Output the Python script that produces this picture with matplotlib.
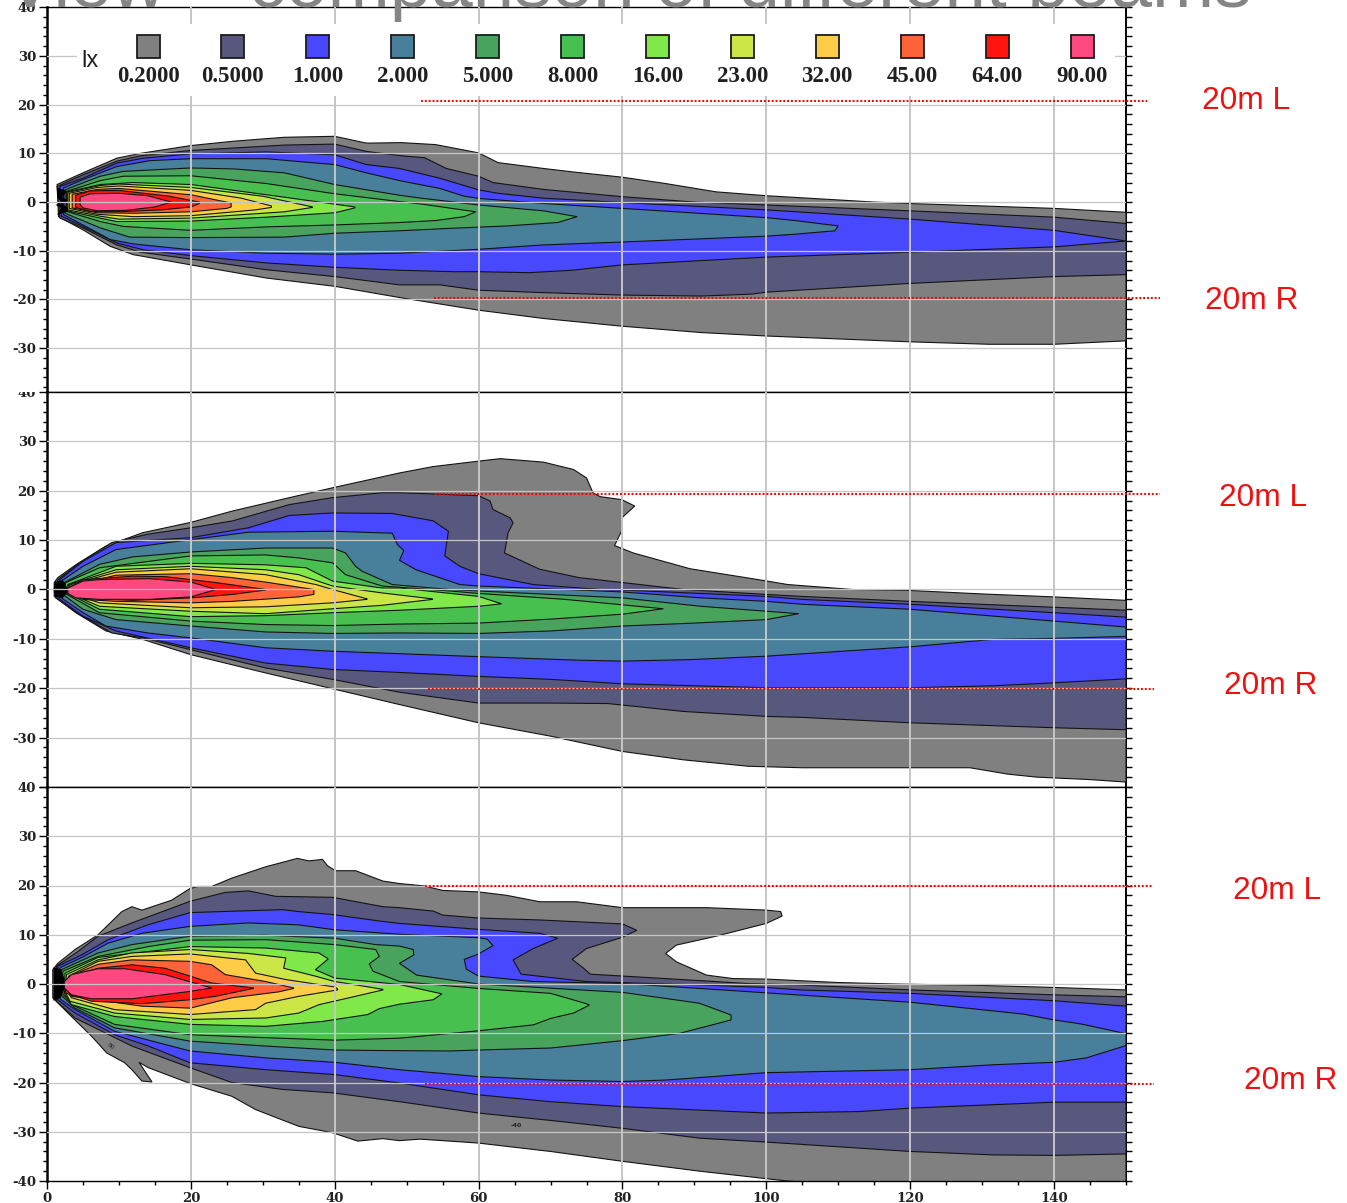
import matplotlib
matplotlib.use("Agg")
import matplotlib.pyplot as plt
from matplotlib.patches import Rectangle
from matplotlib.ticker import MultipleLocator, FixedLocator
from matplotlib.transforms import Bbox

W, H = 1347, 1203
plt.rcParams['axes.unicode_minus'] = False

TITLE = "View – comparison of different beams"
LEGEND_TITLE = "lx"
LEVEL_LABELS = ["0.2000", "0.5000", "1.000", "2.000", "5.000", "8.000", "16.00", "23.00", "32.00", "45.00", "64.00", "90.00"]
LEVEL_COLORS = ["#808080", "#58587F", "#4848FF", "#48809C", "#48A35C", "#48C050", "#80E848", "#CCE648", "#FFCC48", "#FF6438", "#FF1410", "#FF4880"]
XTICKS = [0, 20, 40, 60, 80, 100, 120, 140]
YTICKS = [-40, -30, -20, -10, 0, 10, 20, 30, 40]
ANNOTATION_LABELS = ["20m L", "20m R", "20m L", "20m R", "20m L", "20m R"]
ANNOTATION_Y = [20.7, -19.7, 19.3, -20.1, 19.9, -20.3]

# ---------- Panel 1: contour outlines (x in m, y in m), upper and lower edge ----------
P1_020_UP = [(1.4,3.6),(5,6),(9.7,9),(13,10),(20,11.6),(26,12.5),(33,13.3),(40,13.5),(44.4,12.1),(49.3,12.2),(54,11.8),(60,10.1),(62.7,8.1),(69,6.9),(73,6.2),(80,5.1),(86,3.8),(93,2.1),(100,1.3),(115,0),(120,-.3),(140,-1.3),(150,-2.1)]
P1_020_LO = [(1.6,-3),(5,-5.7),(8.8,-9.1),(12,-10.8),(20,-12.9),(30.5,-15.6),(40,-17.3),(49,-19.6),(60,-22.2),(69,-23.9),(80,-25.5),(91,-26.8),(100,-27.5),(120,-28.7),(131,-29.2),(140,-29.2),(150,-28.5)]
P1_050_UP = [(1.4,3.2),(5,5.6),(9.7,8.4),(13,9.5),(20,10.6),(26,11.1),(33,11.7),(40,11.9),(44.4,10.4),(49.3,9.5),(52.5,9.1),(55.5,6.9),(60,5.3),(62,4),(69,2.6),(80,1.1),(90,0),(100,-.6),(120,-1.8),(140,-3.1),(150,-4.4)]
P1_050_LO = [(1.8,-3.3),(5,-5.3),(9.7,-8.8),(13,-10.3),(20,-11.7),(30.5,-13.9),(40,-15.3),(49,-17),(54.6,-17),(60,-18.1),(69,-18.6),(80,-19.1),(91,-19.3),(98,-18.9),(100,-18.5),(120,-16.7),(140,-15.3),(150,-14.9)]
P1_100_UP = [(1.8,3.2),(5,4.9),(9.7,8),(13.4,9),(20,9.9),(30.5,10.3),(40,9.7),(44.4,7.7),(49,6.9),(54.6,4.9),(60,2.5),(62.7,1.8),(69,.8),(80,-.1),(100,-1.6),(120,-3.5),(140,-5.8),(150,-8)]
P1_100_LO = [(2,-2.9),(5,-5),(9.7,-8.4),(13.4,-9.8),(20,-11),(30.5,-12.5),(40,-13.4),(49,-14),(56.5,-14.3),(60,-14.3),(67,-14.5),(73,-14),(80,-12.9),(100,-11.3),(120,-10.3),(140,-9.2),(150,-8)]
P1_200_UP = [(2.3,2.9),(5,4.6),(9.7,7.3),(14.3,8.5),(20,8.9),(30.5,8.9),(37.5,8),(40,7.7),(44.4,6),(49,4.4),(54.6,2.8),(58,1.2),(60,.75),(69,-.3),(80,-1.3),(100,-3.2),(104,-3.8),(110,-4.9)]
P1_200_LO = [(2.3,-2.6),(5,-4.7),(8.8,-7.7),(12,-8.6),(20,-9.8),(30.5,-10.5),(40,-10.7),(49,-10.5),(60,-9.7),(69,-8.8),(80,-8.2),(100,-7),(104,-6.6),(109.5,-5.9),(110,-4.9)]
P1_500_UP = [(2.5,2.5),(7.4,5.3),(10.6,6.3),(20,7),(26,6.8),(33,6),(40,3.6),(49,1.4),(52,.8),(60,-.6),(69,-1.8),(73.7,-3)]
P1_500_LO = [(2.5,-2.3),(7.4,-5.3),(11.5,-7.2),(20,-7.3),(33,-7.2),(40,-6.4),(49,-5.9),(56,-5.4),(64,-4.9),(71,-4.2),(73.7,-3)]
P1_800_UP = [(2.7,2.2),(7.4,4.4),(10.6,5.3),(20,5.4),(30.5,3.8),(40,1.7),(49,.1),(52,-.4),(59.6,-2)]
P1_800_LO = [(2.7,-1.9),(7.4,-4),(10.6,-5),(20,-5.8),(30.5,-5.1),(40,-4.7),(49,-4.2),(54,-3.8),(58,-3),(59.6,-2)]
P1_1600_UP = [(2.8,2.1),(7.4,3.6),(12,4),(20,3.6),(30.5,1.5),(42.8,-1)]
P1_1600_LO = [(2.8,-1.8),(7.4,-3.3),(9.7,-4),(20,-3.9),(30.5,-3.1),(40,-2.2),(42.8,-1.2)]
P1_2300_UP = [(2.9,2),(7.4,3.4),(10,3.7),(20,3),(30,1.2),(36.9,-1)]
P1_2300_LO = [(2.9,-1.6),(7.4,-2.9),(10,-3.5),(20,-3.3),(25,-2.8),(33,-2),(36.9,-1.1)]
P1_3200_UP = [(3.1,1.8),(7,3),(10,3.3),(20,2.4),(27,.8),(31.2,-.8)]
P1_3200_LO = [(3.1,-1.3),(7,-2.5),(12,-3),(20,-2.8),(29,-1.6),(31.2,-1.1)]
P1_4500_UP = [(3.5,1.6),(7,2.6),(10,2.8),(20,1.5),(25.6,-.2),(25.6,-1)]
P1_4500_LO = [(3.5,-1.2),(7,-2.2),(12,-2.3),(20,-2),(25,-1.3),(25.6,-1)]
P1_6400_UP = [(4,1.4),(6,2.3),(10,2.4),(17,1.2),(21.2,0)]
P1_6400_LO = [(4,-1.1),(6,-1.9),(10,-2),(16,-1.6),(20,-1),(21.2,-.3)]
P1_9000_UP = [(4.6,1),(6,1.7),(10,1.8),(14,1.3),(17.3,0)]
P1_9000_LO = [(4.6,-.5),(5,-1.2),(7,-1.8),(11,-1.7),(15,-1),(17.3,0)]
P1_SOURCE = [(1.4,3),(2.8,2.2),(2.1,1),(2.9,.4),(2.1,-.4),(2.9,-1.2),(2.8,-2),(1.4,-2.6),(2,-1.2),(1.2,-.6),(2,0),(1.4,1)]

# ---------- Panel 2 ----------
P2_020_UP = [(1,1.4),(1.5,2.4),(4,5),(8.2,8.8),(13.3,11.5),(20,13.6),(25.8,15.9),(33.7,18.6),(39.7,20.6),(49,23.6),(53.7,24.9),(60,26),(63,26.5),(69,25.8),(73.2,24.3),(75,22.6),(75.9,19.6),(76.9,18.8),(79.9,18.2),(81.7,16.9),(79.9,14.5),(80,12.2),(78.9,8.9),(81.5,7.4),(89.4,4.2),(99.3,1.9),(103,1),(112,0),(120,-.2),(130,-.9),(140,-1.5),(150,-2.2)]
P2_020_LO = [(1,-1.4),(4,-4.7),(8.2,-8.4),(13.3,-10.1),(20,-13.2),(30.4,-16.9),(39.7,-20.1),(49,-23.3),(60,-27),(70,-29.7),(80,-32.8),(88.5,-34.5),(97.5,-35.8),(105,-36.1),(120,-36.1),(128.3,-36.1),(133.6,-37.4),(137.6,-38),(145,-38.5),(150,-39)]
P2_050_UP = [(1.5,2),(4.5,5.4),(9,9.5),(14,11.2),(20,12.5),(25.8,13.9),(33.7,17.2),(39.7,18.6),(46.6,19.6),(49,19.6),(60,19),(61.6,17.9),(62,16.2),(64.4,14.5),(64.8,13.5),(64.1,11.5),(63.6,7.4),(68.5,4.1),(74,2.4),(88.5,0),(100,-1),(105,-1.4),(120,-2.4),(140,-3.6),(150,-4.2)]
P2_050_LO = [(1.2,-1.7),(4.5,-5),(9,-8.8),(13.3,-9.8),(20,-12.2),(30.4,-15.9),(39.7,-18.2),(49,-20.8),(60,-23),(70,-23),(78,-23.1),(88.5,-24.7),(100,-25.7),(105,-25.9),(120,-27),(140,-28),(150,-28.4)]
P2_100_UP = [(1.7,1.9),(5,5.7),(9.6,9.5),(20,10.5),(28,12.5),(33.7,15),(39.7,15.5),(48,15.4),(53.7,13.9),(55.8,11.8),(55.3,6.8),(57.4,4.7),(60,3.2),(67.6,1),(77,0),(80,-.1),(100,-1.4),(105,-2),(120,-3),(140,-4.7),(150,-5.6)]
P2_100_LO = [(1.5,-1.7),(5,-5.4),(9.6,-8.4),(20,-11.8),(30.4,-14.9),(39.7,-16.2),(49,-16.8),(60,-17.6),(70,-18.2),(80,-19.1),(100,-19.9),(120,-19.9),(131.5,-19.5),(140,-18.9),(150,-18.1)]
P2_200_UP = [(2,1.7),(5,4.7),(9.6,8.1),(20,10.1),(28,11.6),(39.7,11.8),(48,11.4),(48.7,9.1),(49.6,7.9),(49,5.9),(51.3,4),(57.4,1),(60,.7),(77,-.3),(80,-.5),(91,-1.7),(100,-2.4),(105,-3),(120,-4),(140,-6.4),(150,-7.6)]
P2_200_LO = [(1.7,-1.4),(5,-4.7),(8.2,-7.4),(14,-8.8),(20,-9.8),(30.4,-11.8),(39.7,-12.5),(49,-13),(60,-13.6),(73.6,-14.3),(80,-14.5),(89.4,-14.2),(100,-13.5),(120,-11.6),(131.5,-10.1),(140,-9.9),(150,-9.5)]
P2_500_UP = [(2.4,1.4),(7.3,5.1),(11.9,6.6),(20,7.6),(30.4,8.4),(39.7,8.4),(41.5,7.4),(42.9,4.7),(43.8,3.7),(48,1),(56,0),(60,-.3),(80,-1.7),(90.9,-3.4),(104.5,-4.9)]
P2_500_LO = [(2.2,-1),(5,-4),(9.6,-6.1),(20,-7.4),(30.4,-8.6),(39.7,-8.9),(49,-8.8),(60,-8.9),(70,-8.4),(80,-7.4),(90,-6.8),(100,-6.1),(104.5,-4.9)]
P2_800_UP = [(2.6,1.4),(7.3,4.4),(20,6.8),(30.4,7),(35,6.4),(39.7,5.4),(41.5,3),(46.6,.7),(56,-.3),(60,-.8),(72,-2),(85.7,-3.9)]
P2_800_LO = [(2.4,-.7),(7.3,-4.7),(20,-6.4),(30.4,-7.1),(39.7,-7.3),(49,-7),(60,-6.8),(70,-6),(80,-5),(85.7,-3.9)]
P2_1600_UP = [(2.9,1),(9.6,4.7),(20,5.3),(30.4,5),(36,4.4),(39.7,1.7),(46.6,.3),(49,.3),(60,-1.4),(63.2,-2.9)]
P2_1600_LO = [(2.9,-.8),(7.3,-4),(20,-5.5),(30.4,-5.3),(39.7,-4.7),(49,-4.2),(60,-3.4),(63.2,-2.9)]
P2_2300_UP = [(3,1),(9.6,4),(20,4.7),(30.4,4),(35,3),(39.7,.7),(46.6,-.7),(53.6,-1.9)]
P2_2300_LO = [(3.1,-.8),(7.3,-3.4),(20,-4.4),(30.4,-4.9),(39.7,-3.9),(46.6,-3.2),(53.6,-2)]
P2_3200_UP = [(3.1,.9),(9.6,3.5),(20,4.2),(30.4,3),(37.4,1),(39.7,0),(44.5,-1.9)]
P2_3200_LO = [(3.1,-.7),(7.3,-2.7),(20,-3.7),(30.4,-3.5),(39.7,-2.7),(44.5,-2)]
P2_4500_UP = [(3.3,.7),(9.6,2.9),(20,3.2),(25.8,2.4),(30.4,1.5),(37.1,0),(37.1,-1)]
P2_4500_LO = [(3.3,-.6),(5,-2),(9.6,-2.4),(20,-2.7),(25.8,-2.4),(35,-1.5),(37.1,-1)]
P2_6400_UP = [(3.5,.6),(5,2),(11.9,2.7),(16.5,2.6),(23.5,1.4),(30.4,0)]
P2_6400_LO = [(3.5,-.5),(5,-1.7),(11.9,-2.2),(20,-1.7),(25.8,-1),(30.4,-.1)]
P2_9000_UP = [(2.9,.3),(5,1.7),(7.3,2),(14.2,2.2),(20,1.5),(23.5,0)]
P2_9000_LO = [(2.9,-.8),(4,-1.7),(7.3,-2),(14.2,-2),(20,-1.5),(23.5,0)]
P2_SOURCE = [(1.1,1.6),(2.2,1.9),(2.8,.4),(2.8,-.7),(2.2,-1.7),(1.1,-1.5),(.9,0)]

# ---------- Panel 3 ----------
P3_020_UP = [(.8,2.9),(1.5,4.2),(3.9,7),(7.1,10),(10.4,14.7),(11.8,15.7),(13.2,15),(17.3,17),(19.9,19.4),(21,19.8),(22.9,19.8),(25.7,21.5),(30.4,23.8),(34.8,25.5),(36.4,25),(38.3,25.3),(39,24),(40.1,23),(42.9,23),(46.7,20.9),(49,20.4),(52.5,19.9),(55,19),(60,18.7),(63.9,18),(68.5,16.7),(73.6,16.7),(80,15.5),(91.7,15.5),(100,15),(102,14.7),(102.2,13.8),(100,12.3),(93,9.7),(87.5,7.9),(86,6.2),(87.5,4.5),(91.7,1.8),(95.4,1.1),(100,1),(110,.3),(117.9,0),(130,-.3),(140,-.7),(150,-1.2)]
P3_020_LO = [(.8,-2.8),(3.4,-6.6),(6.2,-10.6),(8.3,-14),(10.8,-16),(11.8,-17.4),(13.2,-19.7),(14.6,-19.9),(13.6,-17.7),(12.8,-15.9),(14.1,-17),(19.9,-20.2),(25.7,-22.8),(29,-25.5),(35,-28.9),(39.7,-30.2),(43.2,-31.9),(46.7,-31.4),(49,-31.8),(51.9,-31.5),(60,-32.3),(70,-34),(80,-36),(90.7,-38),(102.9,-40),(150,-45)]
P3_050_UP = [(1.3,3.6),(4.3,6.6),(7.1,9.7),(11.8,12.4),(19.9,16.8),(24.8,18.6),(28,18.9),(31.8,17.8),(39.7,17.6),(46.7,15.7),(49,15.5),(53.7,14.8),(55,14),(60,13.4),(68.5,13),(80,12.2),(82,10.9),(80,9.5),(75,7.2),(73,5),(74.6,3.2),(75.5,2),(86,1.1),(97.4,.1),(104.7,-.2),(120,-1.2),(140,-2.2),(150,-2.6)]
P3_050_LO = [(1.3,-3.5),(3.9,-6.9),(11.8,-12.6),(19.9,-17),(25.7,-20),(32.7,-21.4),(39.7,-22.1),(49,-23.9),(60,-26.2),(70,-27.7),(80,-29.3),(90.7,-31.3),(100,-32.1),(120,-34),(131.5,-34.7),(140,-34.8),(150,-34.5)]
P3_100_UP = [(1.5,3.6),(4.8,5.9),(8.5,9),(14,12),(19.9,14.5),(32.7,15.1),(35,14.7),(39.7,14.1),(46.7,12.7),(49,12.3),(60,11.1),(68.5,10.3),(71,9.3),(67.6,7.2),(64.8,4.9),(65.9,2),(75,.5),(90.7,-.2),(100,-.7),(104.7,-1.2),(120,-1.9),(140,-3.4),(150,-4.5)]
P3_100_LO = [(1.5,-3.2),(3.9,-5.9),(9.4,-10.3),(14.1,-12.6),(19.9,-16),(30.4,-17.4),(40,-18.4),(49,-20.1),(60,-22.5),(70,-23.9),(80,-24.9),(100,-26.2),(113,-25.9),(120,-25.2),(140,-24),(150,-24)]
P3_200_UP = [(1.8,3.3),(5,5.5),(8.5,8.3),(13.2,10.3),(19.9,11.7),(28,12.4),(35,12),(40,11),(49,10.1),(60,9.4),(61.2,9.1),(62,7.8),(60,6.1),(58,5),(58.3,3),(60,1.6),(67.6,.5),(80,.1),(90.7,-.9),(100,-1.8),(120,-3.7),(135.7,-6.1),(140,-7.3),(143.7,-8.1),(150,-10.1)]
P3_200_LO = [(1.8,-3),(3.9,-5.2),(9.4,-9.6),(19.9,-13.6),(30.4,-15),(40,-15.9),(49,-17.4),(60,-18.8),(70,-19.5),(80,-19.8),(86,-19.5),(100,-18),(120,-17.4),(131.5,-16.4),(140,-15.9),(144.5,-15),(150,-12.5)]
P3_500_UP = [(2,2.9),(7.1,6.3),(11.8,8),(19.9,9.7),(30.4,9.9),(40,9.3),(45.7,8),(49,7.7),(50.9,7),(51,5.9),(49,4.2),(51.4,1.8),(60,0),(80,-1.7),(90.7,-3.9),(95.1,-6.3)]
P3_500_LO = [(2,-2.3),(3.9,-4.9),(9.4,-8.9),(19.9,-11.6),(30.4,-12.6),(40,-13.4),(45.7,-13.5),(56,-13.6),(60,-13.4),(70,-13),(80,-11.5),(88,-10),(95.1,-7.3),(95.1,-6.3)]
P3_800_UP = [(2.2,2.6),(7.1,5.6),(14.1,7.6),(19.9,8.9),(30.4,9),(40,8),(45.7,7),(46.2,5.6),(44.8,4.1),(45.3,2.6),(49,.5),(60,-.9),(70,-1.9),(75,-4),(75.4,-4.3)]
P3_800_LO = [(2.2,-2.1),(3.9,-4.5),(9.4,-8.2),(19.9,-10.3),(30.4,-10.9),(40,-11.4),(49,-11),(60,-9.5),(67.6,-8.3),(70,-7),(73.2,-5.9),(75.4,-4.3)]
P3_1600_UP = [(2.5,2.2),(7.1,5.4),(14.1,6.6),(19.9,7.6),(30.4,7.3),(37.8,6.3),(39.1,5.1),(37.3,2.9),(40,1.2),(49,-.1),(54.9,-2)]
P3_1600_LO = [(2.4,-1.9),(3.4,-4.2),(9.4,-6.6),(19.9,-8.2),(30.4,-8.6),(38.3,-7.6),(44.6,-6.2),(46.2,-5),(49,-4.1),(53.7,-3.2),(54.9,-2)]
P3_2300_UP = [(2.7,1.9),(7.1,4.9),(11.8,6.3),(19.9,7),(28,6.2),(33.2,5.3),(32.9,3.2),(37.3,1.6),(40,.5),(44.3,-.5),(46.7,-1.1)]
P3_2300_LO = [(2.5,-1.5),(3.2,-3.5),(9.4,-5.9),(19.9,-7.2),(30.4,-6.9),(35,-5.9),(37.8,-4.2),(42,-2.8),(46.7,-1.2)]
P3_3200_UP = [(3,1.6),(7.1,4.6),(11.8,5.6),(19.9,6.1),(27.6,4.9),(29,2.2),(33.2,.9),(40,-.6),(40.4,-1)]
P3_3200_LO = [(2.8,-1.5),(3.4,-2.8),(9.4,-5.2),(19.9,-6.2),(29,-5.2),(30.4,-3.9),(35,-2.5),(40.4,-1.2)]
P3_4500_UP = [(3.2,1.6),(7.1,4),(11.8,4.9),(19.9,4.6),(22.9,3.9),(24.8,1.9),(30.4,.5),(34.3,-.8)]
P3_4500_LO = [(3.1,-1.5),(3.4,-2.5),(13.2,-4.5),(19.9,-4.9),(25.7,-2.8),(32.2,-1.6),(34.3,-.9)]
P3_6400_UP = [(3.4,1.6),(7.1,3.2),(11.8,3.9),(16.4,3.2),(19.9,1.6),(22.9,.2),(28.7,-.8)]
P3_6400_LO = [(2.5,-1.8),(6.2,-3.5),(13.2,-4),(19.9,-3.2),(23.4,-2.5),(28.7,-.9)]
P3_9000_UP = [(2.4,.5),(3.4,1.9),(7.1,3.1),(10.8,3.1),(16.4,1.9),(22.9,-.8)]
P3_9000_LO = [(2.4,-.8),(3.4,-2.2),(6.2,-3),(11.8,-3),(19.9,-1.5),(22.9,-.8)]
P3_SOURCE = [(.9,3.4),(1.9,3),(2.4,1.2),(2.4,-1),(1.9,-2.8),(.9,-3.4)]

PANEL1 = [(P1_020_UP,P1_020_LO),(P1_050_UP,P1_050_LO),(P1_100_UP,P1_100_LO),(P1_200_UP,P1_200_LO),(P1_500_UP,P1_500_LO),(P1_800_UP,P1_800_LO),(P1_1600_UP,P1_1600_LO),(P1_2300_UP,P1_2300_LO),(P1_3200_UP,P1_3200_LO),(P1_4500_UP,P1_4500_LO),(P1_6400_UP,P1_6400_LO),(P1_9000_UP,P1_9000_LO)]
PANEL2 = [(P2_020_UP,P2_020_LO),(P2_050_UP,P2_050_LO),(P2_100_UP,P2_100_LO),(P2_200_UP,P2_200_LO),(P2_500_UP,P2_500_LO),(P2_800_UP,P2_800_LO),(P2_1600_UP,P2_1600_LO),(P2_2300_UP,P2_2300_LO),(P2_3200_UP,P2_3200_LO),(P2_4500_UP,P2_4500_LO),(P2_6400_UP,P2_6400_LO),(P2_9000_UP,P2_9000_LO)]
PANEL3 = [(P3_020_UP,P3_020_LO),(P3_050_UP,P3_050_LO),(P3_100_UP,P3_100_LO),(P3_200_UP,P3_200_LO),(P3_500_UP,P3_500_LO),(P3_800_UP,P3_800_LO),(P3_1600_UP,P3_1600_LO),(P3_2300_UP,P3_2300_LO),(P3_3200_UP,P3_3200_LO),(P3_4500_UP,P3_4500_LO),(P3_6400_UP,P3_6400_LO),(P3_9000_UP,P3_9000_LO)]

PX_LEFT, PX_RIGHT = 47, 1126
TICK_FONT = dict(family='DejaVu Serif', fontweight='bold', fontsize=9.5, color='#222222')
GRID = '#c6c6c6'

fig = plt.figure(figsize=(W/100, H/100), dpi=100, facecolor='white')


def make_axes(px_top, px_bottom, ylim, panel, source, last):
    ax = fig.add_axes([PX_LEFT/W, 1-px_bottom/H, (PX_RIGHT-PX_LEFT)/W, (px_bottom-px_top)/H])
    ax.set_xlim(0, 150)
    ax.set_ylim(*ylim)
    for color, (up, lo) in zip(LEVEL_COLORS, panel):
        pts = list(up) + list(reversed(lo))
        ax.fill([p[0] for p in pts], [p[1] for p in pts], facecolor=color,
                edgecolor='#141414', linewidth=0.8, zorder=2)
    ax.fill([p[0] for p in source], [p[1] for p in source], facecolor='black', edgecolor='none', zorder=2.5)
    for x in XTICKS[1:]:
        ax.axvline(x, color=GRID, lw=1.4, zorder=3)
    for y in YTICKS[1:-1]:
        ax.axhline(y, color=GRID, lw=0.9, zorder=3)
    yt = [v for v in YTICKS if ylim[0] <= v <= ylim[1] + 0.1]
    ax.yaxis.set_major_locator(FixedLocator(yt))
    ax.set_yticklabels([str(v) for v in yt], **TICK_FONT)
    ax.yaxis.set_minor_locator(MultipleLocator(2))
    ax.tick_params(axis='y', which='major', length=6, width=1, pad=2, left=True)
    ax.tick_params(axis='y', which='minor', length=3, width=1, left=True)
    sec = ax.secondary_yaxis('right')
    sec.yaxis.set_major_locator(MultipleLocator(2))
    sec.tick_params(axis='y', which='major', length=4, width=1, labelright=False)
    sec.spines['right'].set_linewidth(1.4)
    ax.spines['left'].set_linewidth(1.8)
    ax.spines['right'].set_visible(False)
    ax.spines['top'].set_linewidth(1.0)
    ax.spines['bottom'].set_linewidth(1.0)
    if last:
        ax.xaxis.set_major_locator(FixedLocator(XTICKS))
        ax.set_xticklabels([str(v) for v in XTICKS], **TICK_FONT)
        ax.xaxis.set_minor_locator(MultipleLocator(5))
        ax.tick_params(axis='x', which='major', length=6, width=1, pad=2)
        ax.tick_params(axis='x', which='minor', length=3, width=1)
    else:
        ax.tick_params(axis='x', which='both', bottom=False, labelbottom=False)
    return ax


ax1 = make_axes(7, 392, (-39.0, 40.05), PANEL1, P1_SOURCE, False)
ax2 = make_axes(392, 787, (-40, 40), PANEL2, P2_SOURCE, False)
ax3 = make_axes(787, 1181, (-40, 40), PANEL3, P3_SOURCE, True)

# the top label of the middle panel is cut off by the upper panel
for lab in ax2.get_yticklabels():
    if lab.get_text() == '40':
        lab.set_clip_on(True)
        lab.set_clip_box(Bbox([[0, 0], [W, H-392]]))
    if lab.get_text() == '-40':
        lab.set_visible(False)


def pxr(x0, y0, x1, y1, **kw):
    fig.add_artist(Rectangle((x0/W, 1-y1/H), (x1-x0)/W, (y1-y0)/H, transform=fig.transFigure, **kw))


# legend block
pxr(77, 24, 1115, 96, facecolor='white', edgecolor='none', zorder=4)
step = (1082-148)/11
for i, (c, t) in enumerate(zip(LEVEL_COLORS, LEVEL_LABELS)):
    cx = 148 + i*step
    pxr(cx-11.5, 35, cx+11.5, 57.5, facecolor=c, edgecolor='#1c1c1c', linewidth=1.3, zorder=5)
    fig.text(cx/W, 1-76.5/H, t, ha='center', va='center', family='Liberation Serif',
             fontweight='bold', fontsize=16.5, color='#202020', zorder=5)
fig.text(90/W, 1-61/H, LEGEND_TITLE, ha='center', va='center', family='Liberation Sans',
         fontsize=17, color='#222222', zorder=5)

# dotted reference lines and their labels
LINE_SPANS = [(421, 1147), (434, 1160), (435, 1160), (428, 1154), (425, 1152), (425, 1154)]
LABEL_XY = [(1246, 101), (1252, 301), (1263, 498), (1271, 686), (1277, 891), (1291, 1081)]
for ax, idx in ((ax1, (0, 1)), (ax2, (2, 3)), (ax3, (4, 5))):
    for k in idx:
        x0, x1 = LINE_SPANS[k]
        ax.plot([(x0-PX_LEFT)/7.193, (x1-PX_LEFT)/7.193], [ANNOTATION_Y[k]]*2, color='#ff0000',
                lw=1.5, ls=(0, (0.9, 0.95)), clip_on=False, zorder=6)
        fig.text(LABEL_XY[k][0]/W, 1-LABEL_XY[k][1]/H, ANNOTATION_LABELS[k], color='#f01010',
                 family='Liberation Sans', fontsize=22.8, ha='center', va='center', zorder=6)

# stray contour labels
ax3.text(65.2, -28.8, '-40', fontsize=4.5, fontweight='bold', color='#222222', ha='center', va='center', zorder=5)
ax3.text(8.8, -12.6, '80', fontsize=4.5, rotation=-40, color='#222222', ha='center', va='center', zorder=5)

# title, cut by the top edge of the slide crop
fig.text(5/W, 1-6.5/H, TITLE, family='Liberation Sans', fontsize=53.8, color='#858585',
         ha='left', va='baseline', zorder=7)

fig.savefig('out.png', dpi=100)
